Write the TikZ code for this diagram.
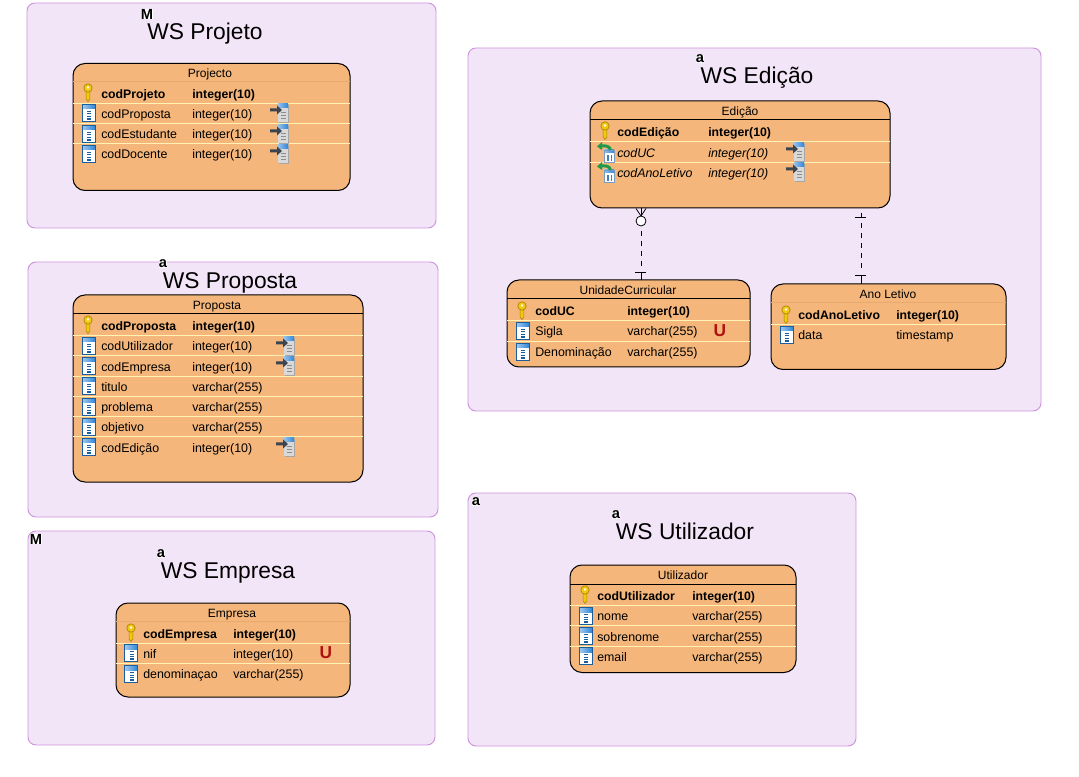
\documentclass[tikz,border=0pt]{standalone}
\usepackage{fontspec}
\setmainfont{Liberation Sans}
\usetikzlibrary{arrows.meta, positioning, calc}
\definecolor{wspanel}{HTML}{F3E5F8}
\definecolor{wsborder}{HTML}{CE93DE}
\definecolor{wsentity}{HTML}{F4B67A}
\definecolor{wssep}{HTML}{FFF3B4}
\definecolor{wshead}{HTML}{E9AA70}
\definecolor{wsblue}{HTML}{1B5E9E}
\definecolor{wssky}{HTML}{2F86D8}
\definecolor{wskey}{HTML}{F2C70E}
\definecolor{wskeydark}{HTML}{A88408}
\definecolor{wsred}{HTML}{B01212}
\definecolor{wsgreen}{HTML}{1E9A4A}
\definecolor{wsarrow}{HTML}{3C4450}

\tikzset{
  panel/.style={draw=wsborder, fill=wspanel, rounded corners=6pt, line width=0.7pt},
  entity/.style={draw=black, fill=wsentity, rounded corners=9pt, line width=0.75pt, inner sep=0pt, outer sep=0pt, anchor=north west},
  wstitle/.style={font=\fontsize{17.1}{20}\selectfont, inner sep=0pt, anchor=base},
  entname/.style={font=\fontsize{9}{11}\selectfont, inner sep=0pt, text height=8pt, text depth=1.5pt},
  colname/.style={font=\fontsize{9.3}{11}\selectfont, inner sep=0pt, anchor=west, text height=8pt, text depth=1.5pt},
  pkname/.style={colname, font=\fontsize{9.2}{11}\selectfont\bfseries},
  fkname/.style={colname, font=\fontsize{9.3}{11}\selectfont\itshape},
  tag/.style={fill=white, inner sep=0.2pt, font=\fontsize{11}{12}\selectfont\bfseries},
  uniq/.style={text=wsred, inner sep=0pt, font=\fontsize{13}{14}\selectfont\bfseries},
  rowsep/.style={draw=wssep, line width=0.7pt},
  headsep/.style={draw=black, line width=0.7pt},
  headfaint/.style={draw=wshead, line width=0.6pt},
  relline/.style={draw=black, dash pattern=on 3.5pt off 4pt, line width=0.6pt},
  relmark/.style={draw=black, line width=0.6pt},
  crowring/.style={circle, draw=black, fill=white, line width=0.6pt, inner sep=0pt, minimum size=7.5pt},
  colicon/.pic={
    \fill[white] (-4.7,-8.5) rectangle (8,8.5);
    \shade[left color=wssky!45, right color=wssky] (-4.7,-8.5) rectangle (8,-4);
    \fill[wsblue] (0,-2) rectangle (4,-1.1);
    \fill[wsblue] (0,0.5) rectangle (4,1.4);
    \fill[wsblue] (0,3) rectangle (4,3.9);
    \fill[wsblue] (0,5.3) rectangle (4,7);
    \draw[wsblue, line width=0.7pt] (-4.7,-8.5) rectangle (8,8.5);
  },
  keyicon/.pic={
    \fill[wskey, draw=wskeydark, line width=0.4pt] (-0.9,-3) -- (-0.9,6) -- (1,8.5) -- (2.9,6) -- (2.9,-3) -- cycle;
    \fill[wskey, draw=wskeydark, line width=0.5pt] (1,-5) circle (4.2);
    \fill[white] (1,-5.5) circle (1.4);
  },
  fkicon/.pic={
    \fill[black!35] (-1,-8) rectangle (9,10);
    \fill[white!85!black] (-2,-9) rectangle (8,9);
    \shade[left color=wssky!50, right color=wssky] (-2,-9) rectangle (8,-5);
    \fill[black!45] (1,-1) rectangle (6,0);
    \fill[black!45] (1,2) rectangle (6,3);
    \fill[black!45] (1,5) rectangle (6,6);
    \fill[wsarrow] (-10,-4.5) -- (-3,-4.5) -- (-3,-7.5) -- (2,-3) -- (-3,1.5) -- (-3,-1.5) -- (-10,-1.5) -- cycle;
  },
  fkcolicon/.pic={
    \fill[white] (-1,-2) rectangle (9,10);
    \shade[left color=wssky!50, right color=wssky] (-1,-2) rectangle (9,1);
    \fill[wsblue!80] (2,3) rectangle (3.5,9);
    \fill[wsblue!80] (5.5,3) rectangle (7,9);
    \draw[wsblue!60, line width=0.4pt] (-1,-2) rectangle (9,10);
    \draw[wsgreen, line width=2.2pt] (5.5,-2) .. controls (4.5,-6) and (1,-6.5) .. (-4,-6);
    \fill[wsgreen] (-8,-5.5) -- (-3,-10) -- (-3,-2) -- cycle;
  },
}

\begin{document}
\begin{tikzpicture}[x=0.75pt, y=-0.75pt]
\useasboundingbox (0,0) rectangle (1079,777);

% Panels
\draw[panel] (27,3) rectangle (436,228);
\draw[panel] (28,262) rectangle (438,517);
\draw[panel] (28,531) rectangle (435,745);
\draw[panel] (468,48) rectangle (1041,411);
\draw[panel] (468,493) rectangle (856,746);

% Panel titles
\node[tag] (tagProjeto) at (147,14) {M};
\node[wstitle] (wsProjeto) at (205,39.5) {WS Projeto};
\node[tag] (tagProposta) at (163,264) {a};
\node[wstitle] (wsProposta) at (230,288.5) {WS Proposta};
\node[tag] (tagEmpresaBox) at (36,539) {M};
\node[tag] (tagEmpresa) at (161,554) {a};
\node[wstitle] (wsEmpresa) at (228,578.5) {WS Empresa};
\node[tag] (tagEdicao) at (700,59) {a};
\node[wstitle] (wsEdicao) at (757,83.5) {WS Edição};
\node[tag] (tagUtilBox) at (476,502) {a};
\node[tag] (tagUtil) at (616,515) {a};
\node[wstitle] (wsUtil) at (685,539.5) {WS Utilizador};

% Relationship lines
\coordinate (ucLink) at (641,240);
\coordinate (anoLink) at (861,240);

% Projecto
\node[entity, minimum width=277*0.75pt, minimum height=127*0.75pt] (projecto) at (73,63.5) {};
\draw[headfaint] (73,81) -- (350,81);
\draw[rowsep] (73,103) -- (350,103);
\draw[rowsep] (73,123) -- (350,123);
\draw[rowsep] (73,143) -- (350,143);
\node[entname] (projectoName) at (210,73) {Projecto};
\pic at (87,93) {keyicon};
\node[pkname] (pjPk) at (101,94) {codProjeto};
\node[pkname] (pjPkType) at (192,94) {integer(10)};
\pic at (87,113) {colicon};
\node[colname] (pjCol1) at (101,114) {codProposta};
\node[colname] (pjCol1Type) at (192,114) {integer(10)};
\pic at (280,113) {fkicon};
\pic at (87,134) {colicon};
\node[colname] (pjCol2) at (101,134) {codEstudante};
\node[colname] (pjCol2Type) at (192,134) {integer(10)};
\pic at (280,134) {fkicon};
\pic at (87,154) {colicon};
\node[colname] (pjCol3) at (101,154) {codDocente};
\node[colname] (pjCol3Type) at (192,154) {integer(10)};
\pic at (280,154) {fkicon};

% Proposta
\node[entity, minimum width=290*0.75pt, minimum height=187*0.75pt] (proposta) at (73,295) {};
\draw[headsep] (73,313.5) -- (363,313.5);
\draw[rowsep] (73,335) -- (363,335);
\draw[rowsep] (73,355) -- (363,355);
\draw[rowsep] (73,376) -- (363,376);
\draw[rowsep] (73,396) -- (363,396);
\draw[rowsep] (73,416) -- (363,416);
\draw[rowsep] (73,436) -- (363,436);
\node[entname] (propostaName) at (217,305) {Proposta};
\pic at (87,325) {keyicon};
\node[pkname] (ppPk) at (101,326) {codProposta};
\node[pkname] (ppPkType) at (192,326) {integer(10)};
\pic at (87,346) {colicon};
\node[colname] (ppCol1) at (101,346) {codUtilizador};
\node[colname] (ppCol1Type) at (192,346) {integer(10)};
\pic at (286,346) {fkicon};
\pic at (87,366) {colicon};
\node[colname] (ppCol2) at (101,367) {codEmpresa};
\node[colname] (ppCol2Type) at (192,367) {integer(10)};
\pic at (286,366) {fkicon};
\pic at (87,386) {colicon};
\node[colname] (ppCol3) at (101,387) {titulo};
\node[colname] (ppCol3Type) at (192,387) {varchar(255)};
\pic at (87,407) {colicon};
\node[colname] (ppCol4) at (101,407) {problema};
\node[colname] (ppCol4Type) at (192,407) {varchar(255)};
\pic at (87,427) {colicon};
\node[colname] (ppCol5) at (101,427) {objetivo};
\node[colname] (ppCol5Type) at (192,427) {varchar(255)};
\pic at (87,447) {colicon};
\node[colname] (ppCol6) at (101,448) {codEdição};
\node[colname] (ppCol6Type) at (192,448) {integer(10)};
\pic at (286,447) {fkicon};

% Empresa
\node[entity, minimum width=234*0.75pt, minimum height=94*0.75pt] (empresa) at (116,603) {};
\draw[headfaint] (116,621) -- (350,621);
\draw[rowsep] (116,643) -- (350,643);
\draw[rowsep] (116,663) -- (350,663);
\node[entname] (empresaName) at (232,613) {Empresa};
\pic at (130,633) {keyicon};
\node[pkname] (emPk) at (143,634) {codEmpresa};
\node[pkname] (emPkType) at (233,634) {integer(10)};
\pic at (129.5,653) {colicon};
\node[colname] (emCol1) at (143,654) {nif};
\node[colname] (emCol1Type) at (233,654) {integer(10)};
\node[uniq] (emUnique) at (326,653) {U};
\pic at (129.5,674) {colicon};
\node[colname] (emCol2) at (143,674) {denominaçao};
\node[colname] (emCol2Type) at (233,674) {varchar(255)};

% Edicao
\node[entity, minimum width=300*0.75pt, minimum height=107*0.75pt] (edicao) at (590,101) {};
\draw[headsep] (590,119) -- (890,119);
\draw[rowsep] (590,141.5) -- (890,141.5);
\draw[rowsep] (590,162) -- (890,162);
\node[entname] (edicaoName) at (740,111) {Edição};
\pic at (604,131) {keyicon};
\node[pkname] (edPk) at (617,132) {codEdição};
\node[pkname] (edPkType) at (708,132) {integer(10)};
\pic at (605,152) {fkcolicon};
\node[fkname] (edCol1) at (617,153) {codUC};
\node[fkname] (edCol1Type) at (708,153) {integer(10)};
\pic at (796,152) {fkicon};
\pic at (605,172) {fkcolicon};
\node[fkname] (edCol2) at (617,173) {codAnoLetivo};
\node[fkname] (edCol2Type) at (708,173) {integer(10)};
\pic at (796,172) {fkicon};

% UnidadeCurricular
\node[entity, minimum width=243*0.75pt, minimum height=87*0.75pt] (uc) at (507,280) {};
\draw[headsep] (507,298) -- (750,298);
\draw[rowsep] (507,320.5) -- (750,320.5);
\draw[rowsep] (507,341) -- (750,341);
\node[entname] (ucName) at (628,290) {UnidadeCurricular};
\pic at (521,311) {keyicon};
\node[pkname] (ucPk) at (535,311) {codUC};
\node[pkname] (ucPkType) at (627,311) {integer(10)};
\pic at (521,331) {colicon};
\node[colname] (ucCol1) at (535,331) {Sigla};
\node[colname] (ucCol1Type) at (627,331) {varchar(255)};
\node[uniq] (ucUnique) at (720,331) {U};
\pic at (521,352) {colicon};
\node[colname] (ucCol2) at (535,352) {Denominação};
\node[colname] (ucCol2Type) at (627,352) {varchar(255)};

% Ano Letivo
\node[entity, minimum width=235*0.75pt, minimum height=85.5*0.75pt] (ano) at (771,284) {};
\draw[headfaint] (771,302.5) -- (1006,302.5);
\draw[rowsep] (771,324) -- (1006,324);
\node[entname] (anoName) at (888,294) {Ano Letivo};
\pic at (785,315) {keyicon};
\node[pkname] (anPk) at (798,315) {codAnoLetivo};
\node[pkname] (anPkType) at (896,315) {integer(10)};
\pic at (785,335) {colicon};
\node[colname] (anCol1) at (798,335) {data};
\node[colname] (anCol1Type) at (896,335) {timestamp};

% Utilizador
\node[entity, minimum width=226*0.75pt, minimum height=107.5*0.75pt] (utilizador) at (570,565) {};
\draw[headsep] (570,584) -- (796,584);
\draw[rowsep] (570,605) -- (796,605);
\draw[rowsep] (570,625) -- (796,625);
\draw[rowsep] (570,646) -- (796,646);
\node[entname] (utilizadorName) at (683,575) {Utilizador};
\pic at (584,595) {keyicon};
\node[pkname] (utPk) at (597,596) {codUtilizador};
\node[pkname] (utPkType) at (692,596) {integer(10)};
\pic at (584,616) {colicon};
\node[colname] (utCol1) at (597,616) {nome};
\node[colname] (utCol1Type) at (692,616) {varchar(255)};
\pic at (584,636) {colicon};
\node[colname] (utCol2) at (597,637) {sobrenome};
\node[colname] (utCol2Type) at (692,637) {varchar(255)};
\pic at (584,656) {colicon};
\node[colname] (utCol3) at (597,657) {email};
\node[colname] (utCol3Type) at (692,657) {varchar(255)};

% Connectors
\draw[relline, shorten <=17.5pt, shorten >=10pt] (edicao.south -| ucLink) -- (uc.north -| ucLink);
\draw[relline, shorten <=11.5pt, shorten >=12pt] (edicao.south -| anoLink) -- (ano.north -| anoLink);
\draw[relmark] (641,208.5) -- (641,216);
\draw[relmark] (636,208.5) -- (641,216) -- (646,208.5);
\node[crowring] (ucCrow) at (641,221) {};
\draw[relmark] (635,272) -- (646,272);
\draw[relmark] (641,272) -- (uc.north -| ucLink);
\draw[relmark] (855,217) -- (866,217);
\draw[relmark] (861,213) -- (861,217);
\draw[relmark] (855,275) -- (866,275);
\draw[relmark] (861,275) -- (ano.north -| anoLink);

\end{tikzpicture}
\end{document}
